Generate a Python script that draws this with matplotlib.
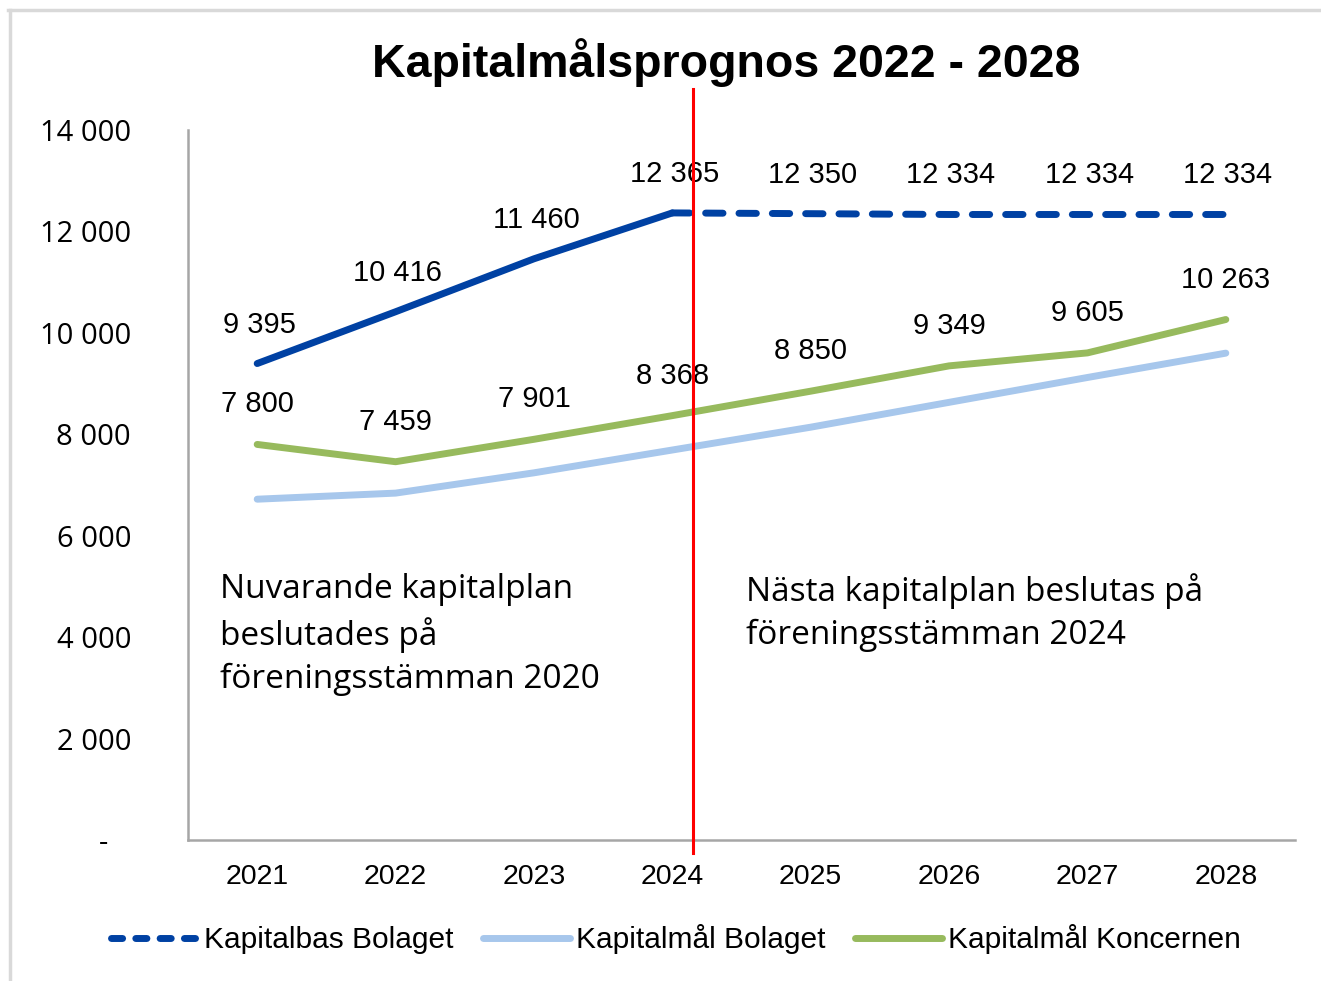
import matplotlib
matplotlib.use("Agg")
import matplotlib.pyplot as plt
from matplotlib.lines import Line2D
from matplotlib.ticker import FuncFormatter

years = ["2021", "2022", "2023", "2024", "2025", "2026", "2027", "2028"]
kapitalbas_bolaget = [9395, 10416, 11460, 12365, 12350, 12334, 12334, 12334]
kapitalmal_bolaget = [6720, 6840, 7240, 7690, 8140, 8630, 9120, 9600]
kapitalmal_koncernen = [7800, 7459, 7901, 8368, 8850, 9349, 9605, 10263]
kapitalbas_labels = ["9 395", "10 416", "11 460", "12 365", "12 350", "12 334", "12 334", "12 334"]
koncernen_labels = ["7 800", "7 459", "7 901", "8 368", "8 850", "9 349", "9 605", "10 263"]
yticks = [0, 2000, 4000, 6000, 8000, 10000, 12000, 14000]
title = "Kapitalmålsprognos 2022 - 2028"
note_left = "Nuvarande kapitalplan\nbeslutades på\nföreningsstämman 2020"
note_right = "Nästa kapitalplan beslutas på\nföreningsstämman 2024"
legend_labels = ["Kapitalbas Bolaget", "Kapitalmål Bolaget", "Kapitalmål Koncernen"]

DARK = "#0041A3"
LIGHT = "#A7C7EC"
GREEN = "#97BA5D"
ARIAL = ["Liberation Sans", "DejaVu Sans"]
SEGOE = ["Open Sans", "DejaVu Sans"]

fig = plt.figure(figsize=(13.21, 9.81), dpi=100)
ax = fig.add_axes([188 / 1321, 141 / 981, 1107 / 1321, 710 / 981])

x = list(range(len(years)))
split = 3
lw = 5
ax.plot(x[:split + 1], kapitalbas_bolaget[:split + 1], color=DARK, lw=lw,
        solid_capstyle="round", solid_joinstyle="round", zorder=4)
ax.plot(x[split:], kapitalbas_bolaget[split:], color=DARK, lw=lw,
        dashes=(2.5, 2.3), dash_capstyle="round", zorder=4)
ax.plot(x, kapitalmal_bolaget, color=LIGHT, lw=lw, solid_capstyle="round",
        solid_joinstyle="round", zorder=3)
ax.plot(x, kapitalmal_koncernen, color=GREEN, lw=lw, solid_capstyle="round",
        solid_joinstyle="round", zorder=3)

for xi, v, s in zip(x, kapitalbas_bolaget, kapitalbas_labels):
    ax.annotate(s, (xi, v), xytext=(2, 39), textcoords="offset pixels",
                ha="center", va="center", fontsize=21, family=ARIAL, zorder=5)
for xi, v, s in zip(x, kapitalmal_koncernen, koncernen_labels):
    ax.annotate(s, (xi, v), xytext=(0, 40), textcoords="offset pixels",
                ha="center", va="center", fontsize=21, family=ARIAL, zorder=5)

# red divider
red_x = 3.15
ax.plot([red_x, red_x], [-260, 14800], color="#FF0000", lw=2.2, clip_on=False, zorder=6)

ax.set_xlim(-0.5, len(years) - 0.5)
ax.set_ylim(0, 14000)
ax.set_xticks(x)
ax.set_xticklabels(years, fontsize=20.5, family=ARIAL)
ax.set_yticks(yticks)
ax.yaxis.set_major_formatter(FuncFormatter(
    lambda v, p: "-   " if v == 0 else f"{int(v):,}".replace(",", " ")))
for t in ax.get_yticklabels():
    t.set_fontfamily(SEGOE)
    t.set_fontsize(21)
ax.tick_params(axis="both", length=0)
ax.tick_params(axis="y", pad=41)
ax.tick_params(axis="x", pad=17)
for s in ["top", "right"]:
    ax.spines[s].set_visible(False)
for s in ["left", "bottom"]:
    ax.spines[s].set_color("#A6A6A6")
    ax.spines[s].set_linewidth(1.8)

ax.text(0.029, 0.376, note_left, transform=ax.transAxes, ha="left", va="top",
        fontsize=24, family=SEGOE, linespacing=1.4)
ax.text(0.504, 0.376, note_right, transform=ax.transAxes, ha="left", va="top",
        fontsize=24, family=SEGOE, linespacing=1.4)

fig.text(726 / 1321, 1 - 63 / 981, title, ha="center", va="center",
         fontsize=33.5, fontweight="bold", family=ARIAL)

handles = [
    Line2D([], [], color=DARK, lw=lw, dashes=(1.6, 1.9), dash_capstyle="round"),
    Line2D([], [], color=LIGHT, lw=lw, solid_capstyle="round"),
    Line2D([], [], color=GREEN, lw=lw, solid_capstyle="round"),
]
fig.legend(handles, legend_labels, loc="center", bbox_to_anchor=(676 / 1321, 1 - 939 / 981),
           ncol=3, frameon=False, handlelength=2.9, handletextpad=0.2, columnspacing=1.0,
           prop={"family": ARIAL, "size": 21.5})

# outer frame (top and left)
fig.add_artist(Line2D([8 / 1321, 1], [1 - 10 / 981, 1 - 10 / 981], color="#D9D9D9", lw=2.5))
fig.add_artist(Line2D([10 / 1321, 10 / 1321], [0, 1 - 10 / 981], color="#D9D9D9", lw=2.5))

fig.savefig("out.png", dpi=100, facecolor="white")
